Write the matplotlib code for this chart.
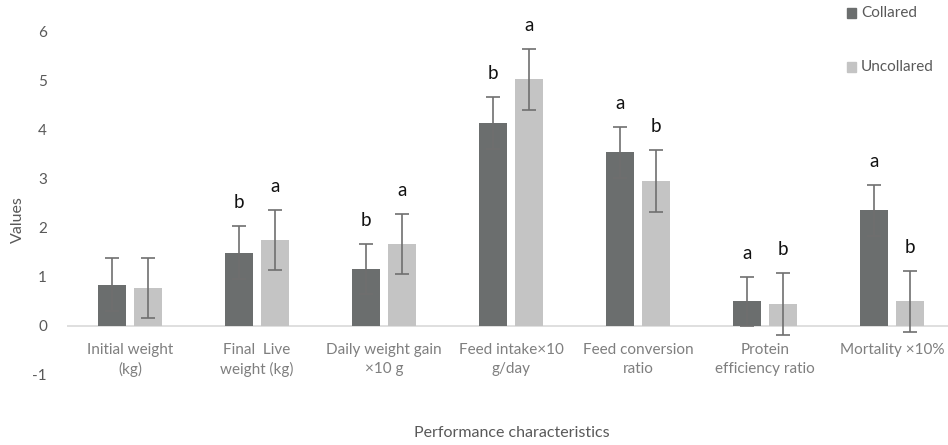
import matplotlib
matplotlib.use("Agg")
import matplotlib.pyplot as plt
import numpy as np

categories = ["Initial weight\n(kg)", "Final  Live\nweight (kg)", "Daily weight gain\n×10 g",
              "Feed intake×10\ng/day", "Feed conversion\nratio", "Protein\nefficiency ratio",
              "Mortality ×10%"]
collared = [0.84, 1.49, 1.16, 4.13, 3.54, 0.50, 2.36]
collared_err = [0.54, 0.54, 0.51, 0.53, 0.52, 0.50, 0.52]
uncollared = [0.78, 1.75, 1.67, 5.03, 2.96, 0.44, 0.50]
uncollared_err = [0.61, 0.61, 0.62, 0.62, 0.63, 0.63, 0.62]
collared_letters = ["", "b", "b", "b", "a", "a", "a"]
uncollared_letters = ["", "a", "a", "a", "b", "b", "b"]
yticks = [-1, 0, 1, 2, 3, 4, 5, 6]

W, H = 948, 445
fig = plt.figure(figsize=(W/100, H/100), dpi=100)
plt.rcParams['font.family'] = ['Lato', 'DejaVu Sans']

y_top_px, y_bot_px = 31.7, 375.0
ax = fig.add_axes([66.5/W, 1 - y_bot_px/H, 889/W, (y_bot_px - y_top_px)/H])
ax.set_xlim(-0.5, 6.5)
ax.set_ylim(-1, 6)

x = np.arange(len(categories))
off, bw = 0.141, 0.225
c_dark, c_light = "#6b6e6e", "#c4c4c4"
ecol = "#6f6f6f"
ax.bar(x - off, collared, bw, color=c_dark, label="Collared", zorder=2)
ax.bar(x + off, uncollared, bw, color=c_light, label="Uncollared", zorder=2)
ax.errorbar(x - off, collared, yerr=collared_err, fmt="none", ecolor=ecol, elinewidth=1.2,
            capsize=5, capthick=1.2, zorder=3)
ax.errorbar(x + off, uncollared, yerr=uncollared_err, fmt="none", ecolor=ecol, elinewidth=1.2,
            capsize=5, capthick=1.2, zorder=3)

for xi, v, e, t in zip(x - off, collared, collared_err, collared_letters):
    if t:
        ax.annotate(t, (xi, v + e), xytext=(0, 17), textcoords="offset points",
                    ha="center", va="center", fontsize=13.5, color="#111111")
for xi, v, e, t in zip(x + off, uncollared, uncollared_err, uncollared_letters):
    if t:
        ax.annotate(t, (xi, v + e), xytext=(0, 17), textcoords="offset points",
                    ha="center", va="center", fontsize=13.5, color="#111111")

ax.axhline(0, color="#d9d9d9", lw=1.2, zorder=1)
for s in ax.spines.values():
    s.set_visible(False)
ax.set_xticks([])
ax.set_yticks(yticks)
ax.set_yticklabels([str(v) for v in yticks])
ax.tick_params(axis="y", length=0, labelsize=11, labelcolor="#595959", pad=14)

for xi, lab in zip(x, categories):
    ax.annotate(lab, (xi, 0), xytext=(0, -12), textcoords="offset points",
                ha="center", va="top", fontsize=11, color="#7f7f7f", linespacing=1.45)

fig.text(18/W, 1 - 220/H, "Values", rotation=90, ha="center", va="center",
         fontsize=11.5, color="#595959")
fig.text(512/W, 1 - 433/H, "Performance characteristics", ha="center", va="center",
         fontsize=11.5, color="#595959")

# legend
lx, ly1, ly2 = 847, 13, 67
for yy, col, lab in [(ly1, c_dark, "Collared"), (ly2, c_light, "Uncollared")]:
    fig.patches.append(plt.Rectangle((lx/W, 1 - (yy + 5)/H), 9/W, 10/H, color=col,
                                     transform=fig.transFigure, figure=fig))
    fig.text((lx + 14)/W, 1 - yy/H, lab, ha="left", va="center", fontsize=11, color="#595959")

fig.savefig("out.png", dpi=100)
